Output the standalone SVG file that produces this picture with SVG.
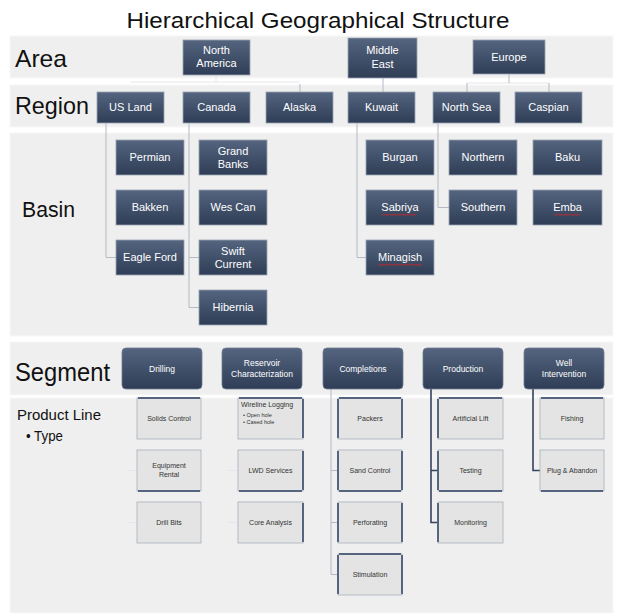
<svg xmlns="http://www.w3.org/2000/svg" width="621" height="616" viewBox="0 0 621 616">
<style>
.band{fill:#efefef;stroke:#f8f8f8;stroke-width:1}
.lbl{font-family:"Liberation Sans",Arial,sans-serif;fill:#111}
.nb{fill:url(#dg);stroke:#9aa5b5;stroke-width:0.8}
.sb{fill:url(#dg);stroke:#6f7c92;stroke-width:0.8}
.nt{font-family:"Liberation Sans",Arial,sans-serif;font-size:11px;fill:#fff;text-anchor:middle}
.st{font-family:"Liberation Sans",Arial,sans-serif;font-size:8.5px;fill:#fff;text-anchor:middle}
.pb{fill:#e4e4e4;stroke:#a7afbc;stroke-width:0.8}
.pt{font-family:"Liberation Sans",Arial,sans-serif;font-size:7px;fill:#333;text-anchor:middle}
.ptl{font-family:"Liberation Sans",Arial,sans-serif;font-size:7px;fill:#333;text-anchor:start}
.acc{stroke:#56657f;stroke-width:2;fill:none}
.cl{stroke:#b3bac5;stroke-width:1;fill:none}
.cf{stroke:#e3e6ea;stroke-width:1;fill:none}
.cd{stroke:#34435d;stroke-width:1.6;fill:none}
.sq{stroke:#d22;stroke-width:0.8;fill:none}
</style>
<defs>
<linearGradient id="dg" x1="0" y1="0" x2="0" y2="1">
<stop offset="0" stop-color="#55657f"/>
<stop offset="1" stop-color="#2f3d56"/>
</linearGradient>
</defs>
<rect width="621" height="616" fill="#fff"/>
<text class="lbl" x="318" y="28" font-size="22" text-anchor="middle" textLength="383" lengthAdjust="spacingAndGlyphs">Hierarchical Geographical Structure</text>
<g id="bands">
<rect class="band" x="10" y="36" width="603" height="42"/>
<rect class="band" x="10" y="85" width="603" height="42"/>
<rect class="band" x="10" y="133" width="603" height="203"/>
<rect class="band" x="10" y="342" width="603" height="53"/>
<rect class="band" x="10" y="398" width="603" height="215"/>
</g>
<g id="row-labels">
<text class="lbl" x="15" y="67" font-size="24" textLength="52" lengthAdjust="spacingAndGlyphs">Area</text>
<text class="lbl" x="15" y="114" font-size="24" textLength="74" lengthAdjust="spacingAndGlyphs">Region</text>
<text class="lbl" x="22" y="217" font-size="22" textLength="53" lengthAdjust="spacingAndGlyphs">Basin</text>
<text class="lbl" x="15" y="381" font-size="26" textLength="95" lengthAdjust="spacingAndGlyphs">Segment</text>
<text class="lbl" x="17" y="420" font-size="15" textLength="84" lengthAdjust="spacingAndGlyphs">Product Line</text>
<text class="lbl" x="26" y="441" font-size="15" textLength="37" lengthAdjust="spacingAndGlyphs">• Type</text>
</g>
<g id="connectors">
<path class="cf" d="M216,75 V82 M130,82 H300"/>
<path class="cl" d="M300,84 V92"/>
<path class="cl" d="M383,78 V92"/>
<path class="cf" d="M467,83 H549"/>
<path class="cl" d="M509,74 V83 M467,83 V92 M549,83 V92"/>
<path class="cl" d="M106,123 V257.5 H116"/>
<path class="cl" d="M189,123 V307.5 H199 M189,257.5 H199"/>
<path class="cl" d="M357,123 V257.5 H366"/>
<path class="cl" d="M438,123 V207.5 H449"/>
<path class="cf" d="M127,470.5 H137 M127,522.5 H137"/>
<path class="cf" d="M228,470.5 H238 M228,522.5 H238"/>
<path class="cl" d="M331,389 V574.5 H338 M331,470.5 H338 M331,522.5 H338"/>
<path class="cd" d="M431,389 V522.5 H438 M431,470.5 H438"/>
<path class="cd" d="M533,389 V470.5 H540"/>
</g>
<g id="area-north-america"><rect class="nb" x="183" y="40" width="67" height="35"/><text class="nt" x="216.5" y="54">North</text><text class="nt" x="216.5" y="67">America</text></g>
<g id="area-middle-east"><rect class="nb" x="348" y="38" width="69" height="40"/><text class="nt" x="382.5" y="54">Middle</text><text class="nt" x="382.5" y="68">East</text></g>
<g id="area-europe"><rect class="nb" x="473" y="40" width="72" height="34"/><text class="nt" x="509" y="61">Europe</text></g>
<g id="region-us-land"><rect class="nb" x="97" y="92" width="67" height="31"/><text class="nt" x="130.5" y="111">US Land</text></g>
<g id="region-canada"><rect class="nb" x="183" y="92" width="67" height="31"/><text class="nt" x="216.5" y="111">Canada</text></g>
<g id="region-alaska"><rect class="nb" x="266" y="92" width="67" height="31"/><text class="nt" x="299.5" y="111">Alaska</text></g>
<g id="region-kuwait"><rect class="nb" x="348" y="92" width="67" height="31"/><text class="nt" x="381.5" y="111">Kuwait</text></g>
<g id="region-north-sea"><rect class="nb" x="433" y="92" width="67" height="31"/><text class="nt" x="466.5" y="111">North Sea</text></g>
<g id="region-caspian"><rect class="nb" x="515" y="92" width="67" height="31"/><text class="nt" x="548.5" y="111">Caspian</text></g>
<g id="basin-permian"><rect class="nb" x="116" y="140" width="68" height="35"/><text class="nt" x="150" y="161">Permian</text></g>
<g id="basin-bakken"><rect class="nb" x="116" y="190" width="68" height="35"/><text class="nt" x="150" y="211">Bakken</text></g>
<g id="basin-eagle-ford"><rect class="nb" x="116" y="240" width="68" height="35"/><text class="nt" x="150" y="261">Eagle Ford</text></g>
<g id="basin-grand-banks"><rect class="nb" x="199" y="140" width="68" height="35"/><text class="nt" x="233" y="155">Grand</text><text class="nt" x="233" y="168">Banks</text></g>
<g id="basin-wes-can"><rect class="nb" x="199" y="190" width="68" height="35"/><text class="nt" x="233" y="211">Wes Can</text></g>
<g id="basin-swift-current"><rect class="nb" x="199" y="240" width="68" height="35"/><text class="nt" x="233" y="255">Swift</text><text class="nt" x="233" y="268">Current</text></g>
<g id="basin-hibernia"><rect class="nb" x="199" y="290" width="68" height="35"/><text class="nt" x="233" y="311">Hibernia</text></g>
<g id="basin-burgan"><rect class="nb" x="366" y="140" width="68" height="35"/><text class="nt" x="400" y="161">Burgan</text></g>
<g id="basin-sabriya"><rect class="nb" x="366" y="190" width="68" height="35"/><text class="nt" x="400" y="211">Sabriya</text><path class="sq" d="M382,214 l2,1.5 l2,-1.5 l2,1.5 l2,-1.5 l2,1.5 l2,-1.5 l2,1.5 l2,-1.5 l2,1.5 l2,-1.5 l2,1.5 l2,-1.5 l2,1.5 l2,-1.5 l2,1.5 l2,-1.5 l2,1.5"/></g>
<g id="basin-minagish"><rect class="nb" x="366" y="240" width="68" height="35"/><text class="nt" x="400" y="261">Minagish</text><path class="sq" d="M378,264 l2,1.5 l2,-1.5 l2,1.5 l2,-1.5 l2,1.5 l2,-1.5 l2,1.5 l2,-1.5 l2,1.5 l2,-1.5 l2,1.5 l2,-1.5 l2,1.5 l2,-1.5 l2,1.5 l2,-1.5 l2,1.5 l2,-1.5 l2,1.5 l2,-1.5 l2,1.5 l2,-1.5"/></g>
<g id="basin-northern"><rect class="nb" x="449" y="140" width="68" height="35"/><text class="nt" x="483" y="161">Northern</text></g>
<g id="basin-southern"><rect class="nb" x="449" y="190" width="68" height="35"/><text class="nt" x="483" y="211">Southern</text></g>
<g id="basin-baku"><rect class="nb" x="533" y="140" width="69" height="35"/><text class="nt" x="567.5" y="161">Baku</text></g>
<g id="basin-emba"><rect class="nb" x="533" y="190" width="69" height="35"/><text class="nt" x="567.5" y="211">Emba</text><path class="sq" d="M554,214 l2,1.5 l2,-1.5 l2,1.5 l2,-1.5 l2,1.5 l2,-1.5 l2,1.5 l2,-1.5 l2,1.5 l2,-1.5 l2,1.5 l2,-1.5 l2,1.5"/></g>
<g id="segment-drilling"><rect class="sb" x="122" y="348" width="80" height="41" rx="4"/><text class="st" x="162" y="372">Drilling</text></g>
<g id="segment-reservoir"><rect class="sb" x="222" y="348" width="80" height="41" rx="4"/><text class="st" x="262" y="366">Reservoir</text><text class="st" x="262" y="377">Characterization</text></g>
<g id="segment-completions"><rect class="sb" x="323" y="348" width="80" height="41" rx="4"/><text class="st" x="363" y="372">Completions</text></g>
<g id="segment-production"><rect class="sb" x="423" y="348" width="80" height="41" rx="4"/><text class="st" x="463" y="372">Production</text></g>
<g id="segment-well-intervention"><rect class="sb" x="524" y="348" width="80" height="41" rx="4"/><text class="st" x="564" y="366">Well</text><text class="st" x="564" y="377">Intervention</text></g>
<g id="pl-solids-control"><rect class="pb" x="137" y="398" width="64" height="41"/><path class="acc" d="M138,398 H200"/><text class="pt" x="169" y="421">Solids Control</text></g>
<g id="pl-equipment-rental"><rect class="pb" x="137" y="450" width="64" height="41"/><path class="acc" d="M138,491 H200"/><text class="pt" x="169" y="468">Equipment</text><text class="pt" x="169" y="477">Rental</text></g>
<g id="pl-drill-bits"><rect class="pb" x="137" y="502" width="64" height="41"/><text class="pt" x="169" y="525">Drill Bits</text></g>
<g id="pl-wireline"><rect class="pb" x="238" y="398" width="65" height="41"/><path class="acc" d="M239,398 H302 M303,399 V438"/><text class="ptl" x="241" y="407">Wireline Logging</text><text class="ptl" x="243" y="417" font-size="5.5" style="font-size:5.5px">• Open hole</text><text class="ptl" x="243" y="424" style="font-size:5.5px">• Cased hole</text></g>
<g id="pl-lwd"><rect class="pb" x="238" y="450" width="65" height="41"/><path class="acc" d="M239,491 H302 M303,451 V490"/><text class="pt" x="270.5" y="473">LWD Services</text></g>
<g id="pl-core"><rect class="pb" x="238" y="502" width="65" height="41"/><path class="acc" d="M303,503 V542"/><text class="pt" x="270.5" y="525">Core Analysis</text></g>
<g id="pl-packers"><rect class="pb" x="338" y="398" width="64" height="41"/><path class="acc" d="M339,398 H401 M338,399 V438 M402,399 V438"/><text class="pt" x="370" y="421">Packers</text></g>
<g id="pl-sand-control"><rect class="pb" x="338" y="450" width="64" height="41"/><path class="acc" d="M339,491 H401 M338,451 V490 M402,451 V490"/><text class="pt" x="370" y="473">Sand Control</text></g>
<g id="pl-perforating"><rect class="pb" x="338" y="502" width="64" height="41"/><path class="acc" d="M338,503 V542 M402,503 V542"/><text class="pt" x="370" y="525">Perforating</text></g>
<g id="pl-stimulation"><rect class="pb" x="338" y="554" width="64" height="41"/><path class="acc" d="M339,554 H401 M338,555 V594 M402,555 V594"/><text class="pt" x="370" y="577">Stimulation</text></g>
<g id="pl-artificial-lift"><rect class="pb" x="438" y="398" width="65" height="41"/><path class="acc" d="M439,398 H502 M438,399 V438"/><text class="pt" x="470.5" y="421">Artificial Lift</text></g>
<g id="pl-testing"><rect class="pb" x="438" y="450" width="65" height="41"/><path class="acc" d="M439,491 H502 M438,451 V490"/><text class="pt" x="470.5" y="473">Testing</text></g>
<g id="pl-monitoring"><rect class="pb" x="438" y="502" width="65" height="41"/><path class="acc" d="M438,503 V542"/><text class="pt" x="470.5" y="525">Monitoring</text></g>
<g id="pl-fishing"><rect class="pb" x="540" y="398" width="64" height="41"/><path class="acc" d="M541,398 H603"/><text class="pt" x="572" y="421">Fishing</text></g>
<g id="pl-plug-abandon"><rect class="pb" x="540" y="450" width="64" height="41"/><path class="acc" d="M541,491 H603"/><text class="pt" x="572" y="473">Plug &amp; Abandon</text></g>
</svg>
